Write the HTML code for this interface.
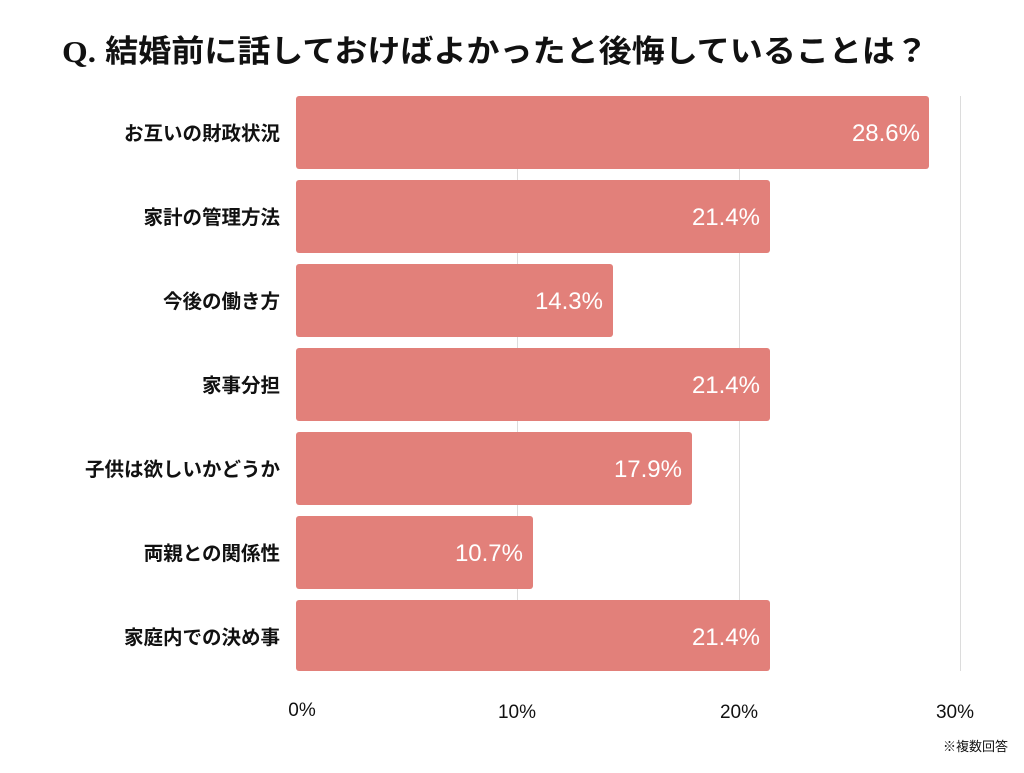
<!DOCTYPE html>
<html><head><meta charset="utf-8"><style>
body{margin:0;width:1024px;height:768px;background:#fff;overflow:hidden}
svg text{font-family:"Liberation Sans","Noto Sans CJK JP",sans-serif}
</style></head><body>
<svg width="1024" height="768" xmlns="http://www.w3.org/2000/svg">
<text x="62" y="62" font-size="31" font-weight="bold" fill="#111" textLength="866" lengthAdjust="spacingAndGlyphs"><tspan font-family="Liberation Serif">Q.</tspan> 結婚前に話しておけばよかったと後悔していることは？</text>
<g stroke="#dcdcdc" stroke-width="1">
<line x1="517.5" y1="96" x2="517.5" y2="671"/>
<line x1="739.5" y1="96" x2="739.5" y2="671"/>
<line x1="960.5" y1="96" x2="960.5" y2="671"/>
</g>
<g fill="#e2807a">
<rect x="296" y="96" width="633" height="73" rx="3"/>
<rect x="296" y="180" width="474" height="73" rx="3"/>
<rect x="296" y="264" width="317" height="73" rx="3"/>
<rect x="296" y="348" width="474" height="73" rx="3"/>
<rect x="296" y="432" width="396" height="73" rx="3"/>
<rect x="296" y="516" width="237" height="73" rx="3"/>
<rect x="296" y="600" width="474" height="71" rx="3"/>
</g>
<g fill="#fff" font-size="24" text-anchor="end">
<text x="920" y="141">28.6%</text>
<text x="760" y="225">21.4%</text>
<text x="603" y="309">14.3%</text>
<text x="760" y="393">21.4%</text>
<text x="682" y="477">17.9%</text>
<text x="523" y="561">10.7%</text>
<text x="760" y="645">21.4%</text>
</g>
<g fill="#111" font-size="19.5" font-weight="bold" text-anchor="end">
<text x="280" y="140">お互いの財政状況</text>
<text x="280" y="224">家計の管理方法</text>
<text x="280" y="308">今後の働き方</text>
<text x="280" y="392">家事分担</text>
<text x="280" y="476">子供は欲しいかどうか</text>
<text x="280" y="560">両親との関係性</text>
<text x="280" y="644">家庭内での決め事</text>
</g>
<g fill="#111" font-size="19" text-anchor="middle">
<text x="302" y="716">0%</text>
<text x="517" y="718">10%</text>
<text x="739" y="718">20%</text>
<text x="955" y="718">30%</text>
</g>
<text x="1008" y="751" font-size="13" fill="#111" text-anchor="end">※複数回答</text>
</svg>
</body></html>
